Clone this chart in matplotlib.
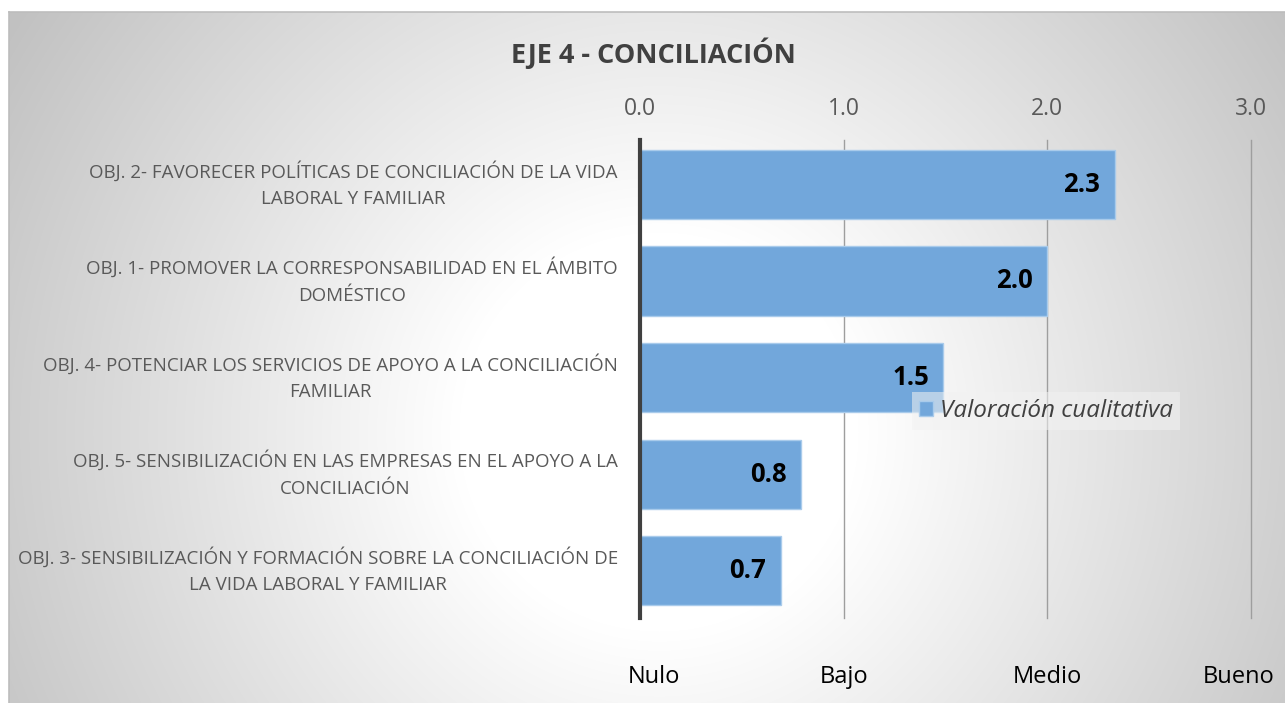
import numpy as np
import matplotlib
matplotlib.use("Agg")
import matplotlib.pyplot as plt
from matplotlib.transforms import ScaledTranslation

# data (bottom to top)
categories = [
    "OBJ. 3- SENSIBILIZACIÓN Y FORMACIÓN SOBRE LA CONCILIACIÓN DE\nLA VIDA LABORAL Y FAMILIAR",
    "OBJ. 5- SENSIBILIZACIÓN EN LAS EMPRESAS EN EL APOYO A LA\nCONCILIACIÓN",
    "OBJ. 4- POTENCIAR LOS SERVICIOS DE APOYO A LA CONCILIACIÓN\nFAMILIAR",
    "OBJ. 1- PROMOVER LA CORRESPONSABILIDAD EN EL ÁMBITO\nDOMÉSTICO",
    "OBJ. 2- FAVORECER POLÍTICAS DE CONCILIACIÓN DE LA VIDA\nLABORAL Y FAMILIAR",
]
values = [0.69, 0.79, 1.49, 2.0, 2.33]
top_ticks = [0.0, 1.0, 2.0, 3.0]
level_labels = ["Nulo", "Bajo", "Medio", "Bueno"]
series_name = "Valoración cualitativa"
title = "EJE 4 - CONCILIACIÓN"

plt.rcParams["font.family"] = ["Open Sans", "DejaVu Sans"]

W, H = 1285, 703
fig = plt.figure(figsize=(W / 100, H / 100), dpi=100)
fig.patch.set_facecolor("white")

# radial gradient background of the chart area
x0, y0 = 9 / W, 0.0
bg = fig.add_axes([x0, y0, 1 - x0, 1 - 12 / H], zorder=-10)
gx, gy = np.meshgrid(np.arange(W - 9), np.arange(H - 12))
r = np.hypot(gx - 650, gy - 420)
t = np.clip((r - 200) / 560, 0, 1)
shade = 1.0 - 0.24 * t
bg.imshow(np.dstack([shade] * 3), aspect="auto", extent=[0, 1, 0, 1],
          origin="upper")
bg.set_xlim(0, 1)
bg.set_ylim(0, 1)
bg.set_xticks([])
bg.set_yticks([])
for s in ["right", "bottom"]:
    bg.spines[s].set_visible(False)
for s in ["top", "left"]:
    bg.spines[s].set_color("#bdbdbd")
    bg.spines[s].set_linewidth(1.2)

ax = fig.add_axes([640 / W, 1 - 618 / H, 611 / W, (618 - 140) / H])
ax.set_facecolor("none")
y = np.arange(len(categories))
bars = ax.barh(y, values, height=0.715, color="#72a7db", edgecolor="#a9cbeb",
               linewidth=1, label=series_name, zorder=3)
for b, v in zip(bars, values):
    ax.text(b.get_width() - 0.07, b.get_y() + b.get_height() / 2, f"{v:.1f}",
            ha="right", va="center", fontsize=18.5, fontweight="bold",
            color="black", zorder=4)

ax.set_xlim(0, 3)
ax.set_ylim(-0.49, 4.46)
ax.set_yticks(y)
ax.set_yticklabels(categories, fontsize=13.5, color="#595959",
                   multialignment="center", linespacing=1.6)
for lab in ax.get_yticklabels():
    lab.set_verticalalignment("center")
ax.tick_params(axis="y", length=0, pad=16)
ax.xaxis.tick_top()
ax.set_xticks(top_ticks)
ax.set_xticklabels([f"{v:.1f}" for v in top_ticks], fontsize=16.5,
                   color="#595959")
ax.tick_params(axis="x", length=0, pad=13.5)
ax.grid(axis="x", color="#9e9e9e", linewidth=1, zorder=0)
for gl in ax.get_xgridlines():
    gl.set_clip_on(False)
for s in ["top", "right", "bottom"]:
    ax.spines[s].set_visible(False)
ax.spines["left"].set_color("#404040")
ax.spines["left"].set_linewidth(3)
ax.spines["left"].set_zorder(5)

sec = ax.secondary_xaxis("bottom")
sec.set_xticks(top_ticks)
sec.set_xticklabels(level_labels, fontsize=17, color="black")
sec.tick_params(length=0, pad=34)
sec.spines["bottom"].set_visible(False)
# first and last level labels are nudged inward, as in the original
shifts = [14, 0, 0, -12]
for lab, dx in zip(sec.get_xticklabels(), shifts):
    lab.set_transform(lab.get_transform()
                      + ScaledTranslation(dx / 100, 0, fig.dpi_scale_trans))

leg = ax.legend(loc="center", bbox_to_anchor=(0.665, 0.433), frameon=True,
                prop={"style": "italic", "size": 17.5}, handlelength=0.55,
                handleheight=0.55, handletextpad=0.3, borderpad=0.3,
                fancybox=False)
leg.get_frame().set_facecolor("#f2f2f2")
leg.get_frame().set_alpha(0.55)
leg.get_frame().set_edgecolor("none")
for txt in leg.get_texts():
    txt.set_color("#404040")
leg.set_zorder(6)

fig.text(653 / W, 1 - 53 / H, title, ha="center", va="center", fontsize=19.5,
         fontweight="bold", color="#404040")

fig.savefig("out.png", dpi=100)
